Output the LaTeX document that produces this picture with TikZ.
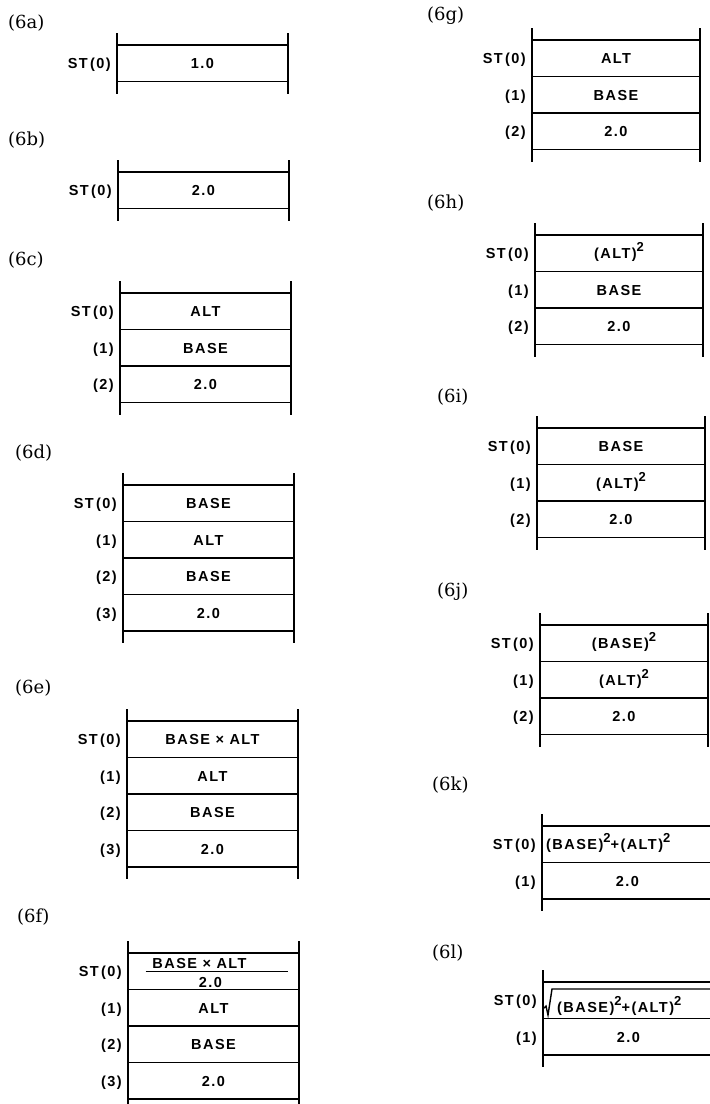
\documentclass[tikz,border=0pt]{standalone}
\usepackage{fontspec}
\setmainfont{DejaVu Serif}
\setsansfont{Liberation Sans}[LetterSpace=10,BoldFont={Liberation Sans Bold}]
\usepackage{tikz}
\usetikzlibrary{positioning}
\newcommand{\sqd}{\raisebox{7pt}{\fontsize{13}{13}\selectfont 2}}

\begin{document}
\begin{tikzpicture}[x=1pt,y=-1pt,node distance=6pt]
  \tikzstyle{tag}=[anchor=west,inner sep=0pt,font=\fontsize{18}{18}\selectfont]
  \tikzstyle{slot}=[minimum width=171pt,minimum height=36.5pt,inner sep=0pt,outer sep=0pt,
    text height=11pt,text depth=0pt,font=\sffamily\bfseries\fontsize{14.5}{15}\selectfont]
  \tikzstyle{cell}=[slot,draw,line width=1.6pt]
  \tikzstyle{rcell}=[cell,minimum width=168pt]
  \tikzstyle{txt}=[inner sep=0pt,text height=11pt,text depth=0pt,font=\sffamily\bfseries\fontsize{14.5}{15}\selectfont]
  \tikzstyle{idx}=[inner sep=0pt,text height=11pt,text depth=0pt,font=\sffamily\bfseries\fontsize{14.5}{15}\selectfont]
  \tikzstyle{hline}=[line width=1.6pt]
  \tikzstyle{vline}=[line width=2.3pt]

  \useasboundingbox (0,0) rectangle (710,1104);
  \coordinate (rim) at (710,0);
  \coordinate (floor) at (0,1104);

  % (6a)
  \node[tag] (ta) at (8,23) {(6a)};
  \node[cell,anchor=north west] (a0) at (117,45) {1.0};
  \node[idx,left=of a0] (a0i) {ST\,(0)};
  \draw[vline] ([yshift=12pt]a0.north west) -- ([yshift=-12pt]a0.south west);
  \draw[vline] ([yshift=12pt]a0.north east) -- ([yshift=-12pt]a0.south east);

  % (6b)
  \node[tag] (tb) at (8,140) {(6b)};
  \node[cell,anchor=north west] (b0) at (118,172) {2.0};
  \node[idx,left=of b0] (b0i) {ST\,(0)};
  \draw[vline] ([yshift=12pt]b0.north west) -- ([yshift=-12pt]b0.south west);
  \draw[vline] ([yshift=12pt]b0.north east) -- ([yshift=-12pt]b0.south east);

  % (6c)
  \node[tag] (tc) at (8,260) {(6c)};
  \node[cell,anchor=north west] (c0) at (120,293) {ALT};
  \node[cell,below=0pt of c0] (c1) {BASE};
  \node[cell,below=0pt of c1] (c2) {2.0};
  \node[idx,left=of c0] (c0i) {ST\,(0)};
  \node[idx,left=of c1] (c1i) {(1)};
  \node[idx,left=of c2] (c2i) {(2)};
  \draw[vline] ([yshift=12pt]c0.north west) -- ([yshift=-12pt]c2.south west);
  \draw[vline] ([yshift=12pt]c0.north east) -- ([yshift=-12pt]c2.south east);

  % (6d)
  \node[tag] (td) at (15,453) {(6d)};
  \node[cell,anchor=north west] (d0) at (123,485) {BASE};
  \node[cell,below=0pt of d0] (d1) {ALT};
  \node[cell,below=0pt of d1] (d2) {BASE};
  \node[cell,below=0pt of d2] (d3) {2.0};
  \node[idx,left=of d0] (d0i) {ST\,(0)};
  \node[idx,left=of d1] (d1i) {(1)};
  \node[idx,left=of d2] (d2i) {(2)};
  \node[idx,left=of d3] (d3i) {(3)};
  \draw[vline] ([yshift=12pt]d0.north west) -- ([yshift=-12pt]d3.south west);
  \draw[vline] ([yshift=12pt]d0.north east) -- ([yshift=-12pt]d3.south east);

  % (6e)
  \node[tag] (te) at (15,688) {(6e)};
  \node[cell,anchor=north west] (e0) at (127,721) {BASE × ALT};
  \node[cell,below=0pt of e0] (e1) {ALT};
  \node[cell,below=0pt of e1] (e2) {BASE};
  \node[cell,below=0pt of e2] (e3) {2.0};
  \node[idx,left=of e0] (e0i) {ST\,(0)};
  \node[idx,left=of e1] (e1i) {(1)};
  \node[idx,left=of e2] (e2i) {(2)};
  \node[idx,left=of e3] (e3i) {(3)};
  \draw[vline] ([yshift=12pt]e0.north west) -- ([yshift=-12pt]e3.south west);
  \draw[vline] ([yshift=12pt]e0.north east) -- ([yshift=-12pt]e3.south east);

  % (6f)
  \node[tag] (tf) at (17,917) {(6f)};
  \node[cell,anchor=north west] (f0) at (128,953) {};
  \node[cell,below=0pt of f0] (f1) {ALT};
  \node[cell,below=0pt of f1] (f2) {BASE};
  \node[cell,below=0pt of f2] (f3) {2.0};
  \node[txt] (f0n) at ([xshift=-14pt,yshift=8pt]f0.center) {BASE × ALT};
  \node[txt] (f0d) at ([xshift=-3pt,yshift=-11pt]f0.center) {2.0};
  \draw[line width=1.2pt] ([xshift=-68pt]f0.center) -- ([xshift=74pt]f0.center);
  \node[idx,left=of f0] (f0i) {ST\,(0)};
  \node[idx,left=of f1] (f1i) {(1)};
  \node[idx,left=of f2] (f2i) {(2)};
  \node[idx,left=of f3] (f3i) {(3)};
  \draw[vline] ([yshift=12pt]f0.north west) -- (f0.north west |- floor);
  \draw[vline] ([yshift=12pt]f0.north east) -- (f0.north east |- floor);

  % (6g)
  \node[tag] (tg) at (427,16) {(6g)};
  \node[rcell,anchor=north west] (g0) at (532,40) {ALT};
  \node[rcell,below=0pt of g0] (g1) {BASE};
  \node[rcell,below=0pt of g1] (g2) {2.0};
  \node[idx,left=of g0] (g0i) {ST\,(0)};
  \node[idx,left=of g1] (g1i) {(1)};
  \node[idx,left=of g2] (g2i) {(2)};
  \draw[vline] ([yshift=12pt]g0.north west) -- ([yshift=-12pt]g2.south west);
  \draw[vline] ([yshift=12pt]g0.north east) -- ([yshift=-12pt]g2.south east);

  % (6h)
  \node[tag] (th) at (427,203) {(6h)};
  \node[rcell,anchor=north west] (h0) at (535,235) {(ALT)\sqd};
  \node[rcell,below=0pt of h0] (h1) {BASE};
  \node[rcell,below=0pt of h1] (h2) {2.0};
  \node[idx,left=of h0] (h0i) {ST\,(0)};
  \node[idx,left=of h1] (h1i) {(1)};
  \node[idx,left=of h2] (h2i) {(2)};
  \draw[vline] ([yshift=12pt]h0.north west) -- ([yshift=-12pt]h2.south west);
  \draw[vline] ([yshift=12pt]h0.north east) -- ([yshift=-12pt]h2.south east);

  % (6i)
  \node[tag] (ti) at (437,397) {(6i)};
  \node[rcell,anchor=north west] (i0) at (537,428) {BASE};
  \node[rcell,below=0pt of i0] (i1) {(ALT)\sqd};
  \node[rcell,below=0pt of i1] (i2) {2.0};
  \node[idx,left=of i0] (i0i) {ST\,(0)};
  \node[idx,left=of i1] (i1i) {(1)};
  \node[idx,left=of i2] (i2i) {(2)};
  \draw[vline] ([yshift=12pt]i0.north west) -- ([yshift=-12pt]i2.south west);
  \draw[vline] ([yshift=12pt]i0.north east) -- ([yshift=-12pt]i2.south east);

  % (6j)
  \node[tag] (tj) at (437,592) {(6j)};
  \node[rcell,anchor=north west] (j0) at (540,625) {(BASE)\sqd};
  \node[rcell,below=0pt of j0] (j1) {(ALT)\sqd};
  \node[rcell,below=0pt of j1] (j2) {2.0};
  \node[idx,left=of j0] (j0i) {ST\,(0)};
  \node[idx,left=of j1] (j1i) {(1)};
  \node[idx,left=of j2] (j2i) {(2)};
  \draw[vline] ([yshift=12pt]j0.north west) -- ([yshift=-12pt]j2.south west);
  \draw[vline] ([yshift=12pt]j0.north east) -- ([yshift=-12pt]j2.south east);

  % (6k)
  \node[tag] (tk) at (432,785) {(6k)};
  \node[slot,anchor=north west] (k0) at (542,826) {};
  \node[slot,below=0pt of k0] (k1) {2.0};
  \node[txt,anchor=west] (k0t) at ([xshift=4pt]k0.west) {(BASE)\sqd+(ALT)\sqd};
  \node[idx,left=of k0] (k0i) {ST\,(0)};
  \node[idx,left=of k1] (k1i) {(1)};
  \draw[hline] (k0.north west) -- (k0.north west -| rim)
    (k0.south west) -- (k0.south west -| rim)
    (k1.south west) -- (k1.south west -| rim);
  \draw[vline] ([yshift=12pt]k0.north west) -- ([yshift=-12pt]k1.south west);

  % (6l)
  \node[tag] (tl) at (432,953) {(6l)};
  \node[slot,anchor=north west] (l0) at (543,982) {};
  \node[slot,below=0pt of l0] (l1) {2.0};
  \node[txt,anchor=west] (l0t) at ([xshift=14pt,yshift=-7pt]l0.west) {(BASE)\sqd+(ALT)\sqd};
  \draw[line width=1.4pt,shift={(l0.north west)}] (1,26) -- (3,24) -- (5,33) -- (9,7) -- (167,7);
  \node[idx,left=of l0] (l0i) {ST\,(0)};
  \node[idx,left=of l1] (l1i) {(1)};
  \draw[hline] (l0.north west) -- (l0.north west -| rim)
    (l0.south west) -- (l0.south west -| rim)
    (l1.south west) -- (l1.south west -| rim);
  \draw[vline] ([yshift=12pt]l0.north west) -- ([yshift=-12pt]l1.south west);
\end{tikzpicture}
\end{document}
